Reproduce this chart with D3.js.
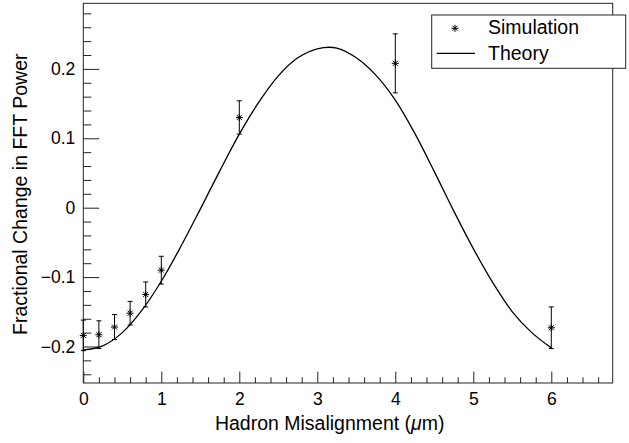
<!doctype html>
<html lang="en">
<head>
    <meta charset="utf-8">
    <script src="https://d3js.org/d3.v7.min.js"></script>
    <title>Fractional Change in FFT Power</title>
    <style>
        body { margin: 0; background: white; }
        svg { display: block; font-family: "Liberation Sans", Arial, Helvetica, sans-serif; }
    </style>
</head>
<body>
    <svg id="svg"></svg>
    <script>
        // simulation points (x in um, value, error)
        let simX = [0, 0.2, 0.4, 0.6, 0.8, 1, 2, 4, 6];
        let simY = [-0.184, -0.183, -0.172, -0.152, -0.125, -0.090, 0.130, 0.208, -0.173];
        let simErr = [0.022, 0.020, 0.018, 0.017, 0.018, 0.020, 0.024, 0.0425, 0.030];

        // theory curve
        let theoryX = [0, 0.25, 0.5, 0.75, 1, 1.25, 1.5, 1.75, 2, 2.25, 2.5, 2.75, 3, 3.25,
            3.5, 3.75, 4, 4.25, 4.5, 4.75, 5, 5.25, 5.5, 5.75, 6];
        let theoryY = [-0.205, -0.199, -0.180, -0.148, -0.106, -0.056, -0.002, 0.053, 0.106, 0.152,
            0.190, 0.216, 0.229, 0.230, 0.216, 0.191, 0.155, 0.107, 0.052, -0.005, -0.059, -0.108,
            -0.150, -0.180, -0.202];

        let xTicks = [0, 1, 2, 3, 4, 5, 6];
        let yTicks = [-0.2, -0.1, 0, 0.1, 0.2];
        let legendLabels = ["Simulation", "Theory"];

        let width = 629, height = 443;
        let margin = { top: 3.3, right: 16.3, bottom: 60, left: 83.3 };
        let w = width - margin.left - margin.right;
        let h = height - margin.top - margin.bottom;

        let svg = d3.select("#svg").attr("width", width).attr("height", height);
        let g = svg.append("g").attr("transform", `translate(${margin.left}, ${margin.top})`);

        let xScale = d3.scaleLinear().domain([0, 6.787]).range([0, w]);
        let yScale = d3.scaleLinear().domain([-0.2526, 0.2945]).range([h, 0]);

        let xMinor = d3.range(0, 6.79, 0.2).filter(v => Math.abs(v - Math.round(v)) > 1e-6);
        let yMinor = d3.range(-0.24, 0.2945, 0.02).filter(v => Math.abs(v * 10 - Math.round(v * 10)) > 1e-6);

        // minor ticks
        g.append("g")
            .attr("transform", `translate(0, ${h})`)
            .call(d3.axisBottom(xScale).tickValues(xMinor).tickSize(-5.7).tickFormat(""))
            .call(a => a.select(".domain").remove());
        g.append("g")
            .call(d3.axisLeft(yScale).tickValues(yMinor).tickSize(-8).tickFormat(""))
            .call(a => a.select(".domain").remove());

        // major ticks + labels
        let fmt = d => d === 0 ? "0" : d3.format(".1f")(d);
        g.append("g")
            .attr("class", "x-axis")
            .attr("transform", `translate(0, ${h})`)
            .call(d3.axisBottom(xScale).tickValues(xTicks).tickSize(-11.4).tickPadding(9.5).tickFormat(d3.format("d")))
            .call(a => a.select(".domain").remove());
        g.append("g")
            .attr("class", "y-axis")
            .call(d3.axisLeft(yScale).tickValues(yTicks).tickSize(-15.9).tickPadding(8).tickFormat(fmt))
            .call(a => a.select(".domain").remove());

        g.selectAll(".tick line").attr("stroke", "#222");
        g.selectAll(".tick text").attr("fill", "black").style("font-size", "17.5px").style("font-family", null);
        g.selectAll(".x-axis .tick text").attr("dy", "0.71em");

        // frame
        g.append("rect")
            .attr("width", w).attr("height", h)
            .attr("fill", "none").attr("stroke", "#222").attr("stroke-width", 1);

        // theory curve
        let theory = theoryX.map((x, i) => [x, theoryY[i]]);
        g.append("path")
            .datum(theory)
            .attr("fill", "none")
            .attr("stroke", "black")
            .attr("stroke-width", 1.3)
            .attr("d", d3.line().x(d => xScale(d[0])).y(d => yScale(d[1])).curve(d3.curveCatmullRom));

        // simulation points with error bars
        let sim = simX.map((x, i) => ({ x: x, y: simY[i], e: simErr[i] }));
        let pts = g.append("g").selectAll("g").data(sim).join("g")
            .attr("transform", d => `translate(${xScale(d.x)}, 0)`)
            .attr("stroke", "black").attr("stroke-width", 1);
        pts.append("line")
            .attr("y1", d => yScale(d.y + d.e)).attr("y2", d => yScale(d.y - d.e));
        pts.append("line").attr("x1", -2.5).attr("x2", 2.5)
            .attr("y1", d => yScale(d.y + d.e)).attr("y2", d => yScale(d.y + d.e));
        pts.append("line").attr("x1", -2.5).attr("x2", 2.5)
            .attr("y1", d => yScale(d.y - d.e)).attr("y2", d => yScale(d.y - d.e));

        let star = "M-3.5,0L3.5,0M0,-3.5L0,3.5M-2.5,-2.5L2.5,2.5M-2.5,2.5L2.5,-2.5";
        pts.append("path")
            .attr("transform", d => `translate(0, ${yScale(d.y)})`)
            .attr("d", star);

        // axis titles
        svg.append("text")
            .attr("x", 329.7).attr("y", 429.5)
            .attr("text-anchor", "middle")
            .style("font-size", "19.5px")
            .html('Hadron Misalignment (<tspan font-style="italic">μ</tspan>m)');
        svg.append("text")
            .attr("transform", "translate(26.7, 194.2) rotate(-90)")
            .attr("text-anchor", "middle")
            .style("font-size", "19.5px")
            .text("Fractional Change in FFT Power");

        // legend
        let legend = svg.append("g");
        legend.append("rect")
            .attr("x", 431.7).attr("y", 15).attr("width", 194).attr("height", 53.3)
            .attr("fill", "white").attr("stroke", "#222").attr("stroke-width", 1);
        legend.append("path")
            .attr("transform", "translate(455, 28.3)")
            .attr("d", star).attr("stroke", "black");
        legend.append("line")
            .attr("x1", 436.7).attr("x2", 475).attr("y1", 53.3).attr("y2", 53.3)
            .attr("stroke", "black").attr("stroke-width", 1.2);
        legend.selectAll("text.lab").data(legendLabels).join("text")
            .attr("class", "lab")
            .attr("x", 488).attr("y", (d, i) => 34 + i * 26)
            .style("font-size", "19.5px")
            .text(d => d);
    </script>
</body>
</html>
